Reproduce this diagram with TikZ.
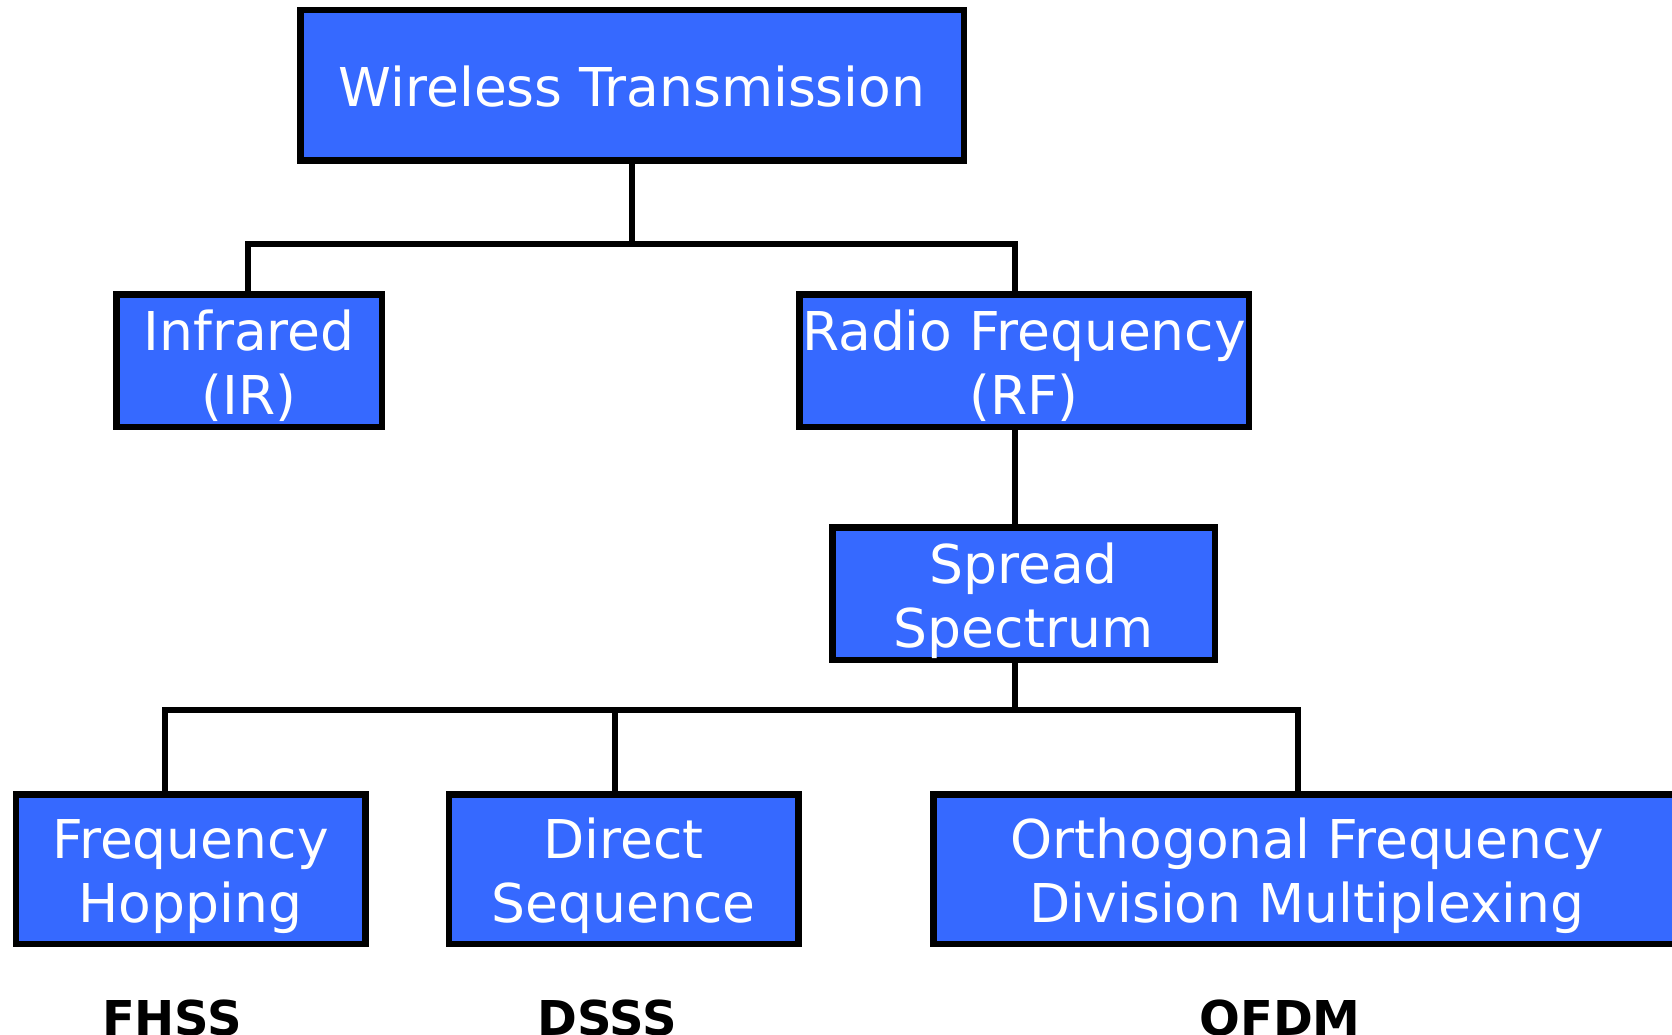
\documentclass[tikz,border=0pt]{standalone}
\usepackage{fontspec}
\setmainfont{DejaVu Sans}
\usetikzlibrary{calc}
\definecolor{boxblue}{RGB}{54,105,255}
% box caption: centred lines whose first baseline sits #1 above the box centre
\newcommand{\boxtext}[2][10.5pt]{\raisebox{#1}[0pt][0pt]{\begin{tabular}[t]{@{}c@{}}#2\end{tabular}}}
\begin{document}
\begin{tikzpicture}[x=1pt,y=-1pt,
  box/.style={draw=black, line width=6.5pt, fill=boxblue, text=white,
    inner sep=0pt, font=\fontsize{53.5}{64}\selectfont},
  link/.style={draw=black, line width=6pt},
  tag/.style={font=\fontsize{48}{58}\selectfont\bfseries, anchor=base}]
\useasboundingbox (0,0) rectangle (1672,1035);
\clip (0,0) rectangle (1672,1035);

% junction points of the two buses
\coordinate (b1) at (632,244);
\coordinate (b2) at (1015,710);

% where the connectors meet the boxes
\coordinate (irtop) at (248,291);
\coordinate (rftop) at (1015,291);
\coordinate (rfbot) at (1015,430);
\coordinate (sstop) at (1015,524);
\coordinate (ssbot) at (1015,663);
\coordinate (fhtop) at (165,791);
\coordinate (dstop) at (615,791);
\coordinate (oftop) at (1298,791);

% boxes
\node[box, minimum width=663.5pt, minimum height=150.5pt] (wt) at (632,85.5) {\boxtext[-21pt]{Wireless Transmission}};
\node[box, minimum width=265.5pt, minimum height=132.5pt] (ir) at (249,360.5) {\boxtext{Infrared\\(IR)}};
\node[box, minimum width=449.5pt, minimum height=132.5pt] (rf) at (1024,360.5) {\boxtext{Radio Frequency\\(RF)}};
\node[box, minimum width=382.5pt, minimum height=132.5pt] (ss) at (1023.5,593.5) {\boxtext{Spread\\Spectrum}};
\node[box, minimum width=349.5pt, minimum height=149.5pt] (fh) at (190.5,869) {\boxtext[11pt]{Frequency\\Hopping}};
\node[box, minimum width=349.5pt, minimum height=149.5pt] (ds) at (623.5,869) {\boxtext[11pt]{Direct\\Sequence}};
\node[box, minimum width=747.5pt, minimum height=149.5pt] (of) at (1307,869) {\boxtext[11pt]{Orthogonal Frequency\\Division Multiplexing}};

% tree connectors
\draw[link] (wt.south) -- (b1);
\draw[link] (irtop) |- (b1) -| (rftop);
\draw[link] (rfbot) -- (sstop);
\draw[link] (ssbot) -- (b2);
\draw[link] (fhtop) |- (b2) -| (oftop);
\draw[link] (dstop) -- (dstop |- b2);

% acronyms
\node[tag] (fhss) at (172,1035) {FHSS};
\node[tag] (dsss) at (607,1035) {DSSS};
\node[tag] (ofdm) at (1280,1035) {OFDM};
\end{tikzpicture}
\end{document}
